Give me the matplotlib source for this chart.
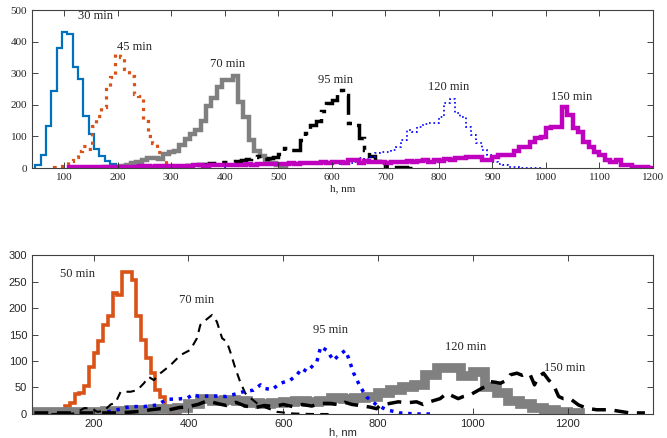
import numpy as np
import matplotlib
matplotlib.use("Agg")
import matplotlib.pyplot as plt

# ---- top panel: histograms (bin start, bin width, counts) ----
t30_start, t30_w = 46, 10
t30 = [8, 41, 132, 243, 380, 430, 425, 320, 282, 164, 108, 60, 38, 23, 12, 7, 3, 1]

t45_start, t45_w = 82, 8.7
t45 = [3, 6, 14, 22, 35, 55, 70, 60, 132, 164, 192, 255, 287, 362, 350, 312,
       290, 233, 228, 150, 100, 78, 50, 25, 8]

t70_start, t70_w = 175, 10
t70 = [2, 3, 4, 5, 8, 15, 20, 25, 33, 33, 28, 45, 52, 55, 72, 92, 108, 120, 150,
       195, 222, 255, 278, 280, 292, 210, 160, 90, 55, 38, 25, 16, 8, 3]

t95_start, t95_w = 280, 10
t95 = [3, 5, 6, 7, 8, 8, 10, 12, 14, 15, 16, 18, 18, 20, 22, 25, 28, 36, 38, 30,
       33, 36, 45, 63, 58, 58, 89, 110, 135, 150, 180, 205, 215, 247, 230, 142,
       136, 95, 57, 38, 22, 12, 6, 3, 3, 2, 1]

t120_start, t120_w = 400, 10
t120 = [8, 10, 12, 12, 14, 15, 14, 16, 15, 14, 15, 16, 14, 15, 16, 17, 18, 17,
        16, 15, 15, 14, 15, 15, 20, 31, 30, 35, 47, 52, 52, 57, 67, 89, 120, 115,
        131, 140, 143, 144, 160, 205, 220, 173, 162, 131, 104, 78, 57, 41, 20, 12,
        9, 3, 2, 1, 1, 1, 1]

t150_start, t150_w = 110, 10
t150 = [2, 2, 2,
        2, 2, 3, 2, 3, 3, 4, 3, 4, 4, 5,
        5, 4, 5, 6, 5, 6, 7, 6, 7, 8,
        8, 7, 9, 8, 10, 9, 10, 11, 10, 12,
        11, 12, 13, 12, 14, 13, 14, 15, 14, 16,
        15, 17, 16, 18, 17,
        20, 18, 15, 25, 25, 15, 22, 20, 20, 20, 15, 18, 20, 18, 22, 20, 22, 25,
        20, 25, 22, 28, 25, 31, 31, 36, 36, 36, 25, 25,
        36, 41, 41, 41, 55, 67, 67, 83, 94, 99, 126, 131, 131, 192, 168, 126,
        115, 83, 67, 52, 41, 25, 20, 25, 9, 8, 4, 3, 2, 1]

top_labels = ["30 min", "45 min", "70 min", "95 min", "120 min", "150 min"]
top_lab_x = [159, 231, 406, 607, 819, 1048]
top_lab_y = [481, 382, 329, 278, 255, 226]

# ---- bottom panel ----
b50_start, b50_w = 120, 10
b50 = [6, 8, 15, 20, 38, 39, 52, 89, 116, 138, 168, 184, 228, 225, 268, 268,
       252, 184, 140, 105, 77, 45, 33, 14, 3, 2]

b70_x = [80, 120, 160, 180, 194, 208, 222, 236, 246, 257, 278, 292, 306, 316,
         327, 341, 362, 383, 404, 418, 425, 436, 450, 460, 471, 481, 488, 499,
         509, 520, 531, 545, 566, 587, 620, 660, 700]
b70_y = [0, 0, 1, 11, 11, 4, 6, 18, 21, 42, 42, 45, 58, 70, 64, 77, 92, 111,
         121, 143, 168, 177, 187, 174, 143, 136, 118, 86, 61, 39, 30, 20, 11, 4,
         1, 0, 0]

b95_x = [229, 250, 278, 306, 334, 355, 376, 397, 411, 422, 446, 480, 516, 537,
         552, 562, 576, 594, 615, 629, 639, 650, 660, 671, 679, 692, 706, 716,
         731, 738, 748, 762, 776, 797, 818, 846, 880, 910]
b95_y = [4, 8, 14, 14, 17, 28, 28, 30, 37, 33, 34, 33, 42, 45, 55, 48, 46, 58,
         64, 74, 86, 80, 89, 99, 127, 120, 101, 110, 120, 105, 78, 52, 32, 17, 8,
         2, 0, 0]

b120_start, b120_w = 75, 25
b120 = [3, 3, 3, 3, 4, 4, 5, 6, 7, 8, 9, 10, 12, 18, 28, 24, 26, 24, 20, 18,
        20, 22, 24, 22, 25, 30, 28, 30, 33, 39, 45, 50, 55, 74, 86, 86, 72, 80,
        50, 39, 25, 18, 12, 8, 3, 2]

b150_x = [75, 120, 160, 200, 240, 270, 300, 320, 340, 360, 380, 400, 420, 440,
          460, 480, 500, 520, 540, 560, 580, 600, 620, 640, 660, 680, 700, 720,
          730, 745, 762, 783, 797, 804, 825, 843, 860, 881, 895, 909, 931, 945,
          969, 980, 994, 1012, 1026, 1037, 1047, 1058, 1072, 1079, 1093, 1104,
          1114, 1121, 1130, 1139, 1149, 1160, 1170, 1181, 1191, 1205, 1223, 1240,
          1261, 1289, 1310, 1331, 1363]
b150_y = [2, 2, 2, 2, 2, 3, 5, 8, 10, 8, 12, 14, 18, 25, 20, 16, 22, 15, 12, 16,
          14, 18, 14, 18, 15, 20, 20, 17, 22, 18, 16, 13, 10, 16, 20, 23, 21, 23,
          18, 23, 29, 39, 29, 33, 36, 45, 52, 61, 60, 58, 64, 74, 77, 73, 77, 74,
          55, 71, 77, 64, 55, 33, 29, 29, 17, 11, 8, 8, 5, 2, 2]

bot_labels = ["50 min", "70 min", "95 min", "120 min", "150 min"]
bot_lab_x = [166, 418, 699, 985, 1194]
bot_lab_y = [265, 215, 158, 127, 86]


def edges(start, w, counts):
    return start + w * np.arange(len(counts) + 1)


def style_axes(ax, family):
    for s in ax.spines.values():
        s.set_color("#404040")
        s.set_linewidth(0.8)
    ax.tick_params(direction="in", top=True, right=True, length=4,
                   colors="#262626", labelsize=8, width=0.6)
    for lab in ax.get_xticklabels() + ax.get_yticklabels():
        lab.set_family(family)


serif = "Liberation Serif"
sans = "Liberation Sans"

fig = plt.figure(figsize=(6.67, 4.38), dpi=100)
ax1 = fig.add_axes([0.048, 0.6164, 0.931, 0.3606])
ax2 = fig.add_axes([0.048, 0.0548, 0.931, 0.363])

ax1.stairs(t30, edges(t30_start, t30_w, t30), color="#0072BD", lw=1.6)
ax1.stairs(t45, edges(t45_start, t45_w, t45), color="#D95319", lw=2.3, ls=":")
ax1.stairs(t70, edges(t70_start, t70_w, t70), color="#808080", lw=3.2)
ax1.stairs(t95, edges(t95_start, t95_w, t95), color="black", lw=2.5,
           ls=(0, (6, 2, 1.5, 2)))
ax1.stairs(t120, edges(t120_start, t120_w, t120), color="#0000FF", lw=1.2, ls=":")
ax1.stairs(t150, edges(t150_start, t150_w, t150), color="#BF00BF", lw=3.2)

for s, x, y in zip(top_labels, top_lab_x, top_lab_y):
    ax1.text(x, y, s, family=serif, fontsize=9, color="#262626",
             ha="center", va="center")

ax1.set_xlim(40, 1200)
ax1.set_ylim(0, 500)
ax1.set_xticks(np.arange(100, 1201, 100))
ax1.set_yticks(np.arange(0, 501, 100))
style_axes(ax1, serif)
ax1.set_xlabel("h, nm", family=serif, fontsize=8, color="#262626")
ax1.xaxis.set_label_coords(0.5, -0.105)

ax2.stairs(b50, edges(b50_start, b50_w, b50), color="#D95319", lw=2.6)
ax2.plot(b70_x, b70_y, color="black", lw=1.5, ls=(0, (4, 3)))
ax2.plot(b95_x, b95_y, color="#0000FF", lw=2.5, ls=":")
ax2.stairs(b120, edges(b120_start, b120_w, b120), color="#808080", lw=7)
ax2.plot(b150_x, b150_y, color="black", lw=2.5, ls=(0, (4, 2.5)))

for s, x, y in zip(bot_labels, bot_lab_x, bot_lab_y):
    ax2.text(x, y, s, family=serif, fontsize=9, color="#262626",
             ha="center", va="center")

ax2.set_xlim(70, 1380)
ax2.set_ylim(0, 300)
ax2.set_xticks(np.arange(200, 1201, 200))
ax2.set_yticks(np.arange(0, 301, 50))
style_axes(ax2, sans)
ax2.set_xlabel("h, nm", family=sans, fontsize=8, color="#262626")
ax2.xaxis.set_label_coords(0.5, -0.085)

fig.savefig("out.png", dpi=100)
